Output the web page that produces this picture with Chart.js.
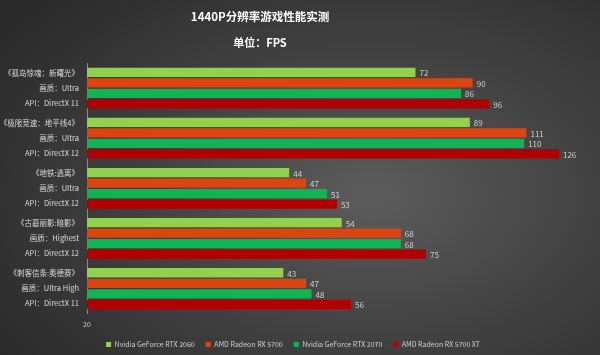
<!DOCTYPE html>
<html>
<head>
<meta charset="utf-8">
<script src="https://cdn.jsdelivr.net/npm/chart.js@4"></script>
<style>
html,body{margin:0;padding:0;}
body{width:600px;height:355px;background:radial-gradient(ellipse 75% 80% at 62% 55%, #5c5c5c 0%, #444 45%, #2a2a2a 100%);overflow:hidden;}
#wrap{position:relative;width:600px;height:355px;}
.t{position:absolute;left:0;width:520px;text-align:center;color:#fff;font-family:'Noto Sans CJK SC','Noto Sans',sans-serif;font-weight:bold;line-height:1;}
#title{top:11px;font-size:11.5px;}
#sub{top:37px;font-size:11px;}
canvas{position:absolute;left:0;top:0;}
</style>
</head>
<body>
<div id="wrap"><canvas id="c" width="600" height="355"></canvas>
<div class="t" id="title">1440P分辨率游戏性能实测</div>
<div class="t" id="sub">单位：FPS</div></div>
<script>
const categories = [
  ["《孤岛惊魂：新曙光》", "画质：Ultra", "API：DirectX 11"],
  ["《极限竞速：地平线4》", "画质：Ultra", "API：DirectX 12"],
  ["《地铁:逃离》", "画质：Ultra", "API：DirectX 12"],
  ["《古墓丽影:暗影》", "画质：Highest", "API：DirectX 12"],
  ["《刺客信条:奥德赛》", "画质：Ultra High", "API：DirectX 11"]
];
const seriesNames = ["Nvidia GeForce RTX 2060", "AMD Radeon RX 5700", "Nvidia GeForce RTX 2070", "AMD Radeon RX 5700 XT"];
const rtx2060 = [72, 89, 44, 54, 43];
const rx5700 = [90, 111, 47, 68, 47];
const rtx2070 = [86, 110, 51, 68, 48];
const rx5700xt = [96, 126, 53, 75, 56];
const xTicks = [20];
const colors = ["#92d050", "#dc4510", "#10b552", "#b00000"];

const FONT = "'Noto Sans CJK SC', 'Noto Sans', sans-serif";

const valueLabels = {
  id: 'valueLabels',
  afterDatasetsDraw(chart) {
    const ctx = chart.ctx;
    ctx.save();
    ctx.font = "8px " + FONT;
    ctx.fillStyle = "#d0d0d0";
    ctx.textBaseline = "middle";
    ctx.textAlign = "left";
    chart.data.datasets.forEach((ds, i) => {
      const meta = chart.getDatasetMeta(i);
      meta.data.forEach((bar, j) => {
        ctx.fillText(String(ds.data[j]), bar.x + 4, bar.y + 1);
      });
    });
    ctx.restore();
  }
};

const legendShift = {
  id: 'legendShift',
  afterInit(chart) {
    const lg = chart.legend;
    if (!lg) return;
    const f = lg.fit.bind(lg);
    lg.fit = function () { f(); this.height -= 6; };
  },
  afterLayout(chart) {
    const lg = chart.legend;
    if (!lg) return;
    lg.top -= 6; lg.bottom -= 6;
  }
};

const seriesData = [rtx2060, rx5700, rtx2070, rx5700xt];

new Chart(document.getElementById('c'), {
  type: 'bar',
  data: {
    labels: categories,
    datasets: seriesNames.map((n, i) => ({
      label: n,
      data: seriesData[i],
      backgroundColor: colors[i],
      borderWidth: 0,
      categoryPercentage: 0.84,
      barPercentage: 0.88
    }))
  },
  options: {
    indexAxis: 'y',
    responsive: false,
    animation: false,
    layout: { padding: { left: 0, right: 14, top: 63, bottom: -3 } },
    scales: {
      x: {
        type: 'logarithmic',
        min: 20,
        max: 140,
        afterBuildTicks(scale) { scale.ticks = xTicks.map(v => ({ value: v })); },
        grid: { display: false, drawTicks: false },
        border: { display: false },
        ticks: {
          color: "#cfcfcf",
          font: { size: 7, family: FONT },
          padding: 7,
          callback: v => String(v),
          maxRotation: 0
        }
      },
      y: {
        afterFit(scale) { scale.width = 87; },
        grid: { display: false, drawTicks: false },
        border: { display: true, color: "#8a8a8a", width: 1 },
        ticks: {
          autoSkip: false,
          color: "#dcdcdc",
          font: { size: 7.5, family: FONT, lineHeight: 2 },
          padding: 8
        }
      }
    },
    plugins: {
      title: { display: false },
      legend: {
        position: 'bottom',
        labels: {
          color: "#cfcfcf",
          font: { size: 7, family: FONT },
          boxWidth: 5,
          boxHeight: 5,
          padding: 11
        }
      },
      tooltip: { enabled: false }
    }
  },
  plugins: [valueLabels, legendShift]
});
</script>
</body>
</html>
